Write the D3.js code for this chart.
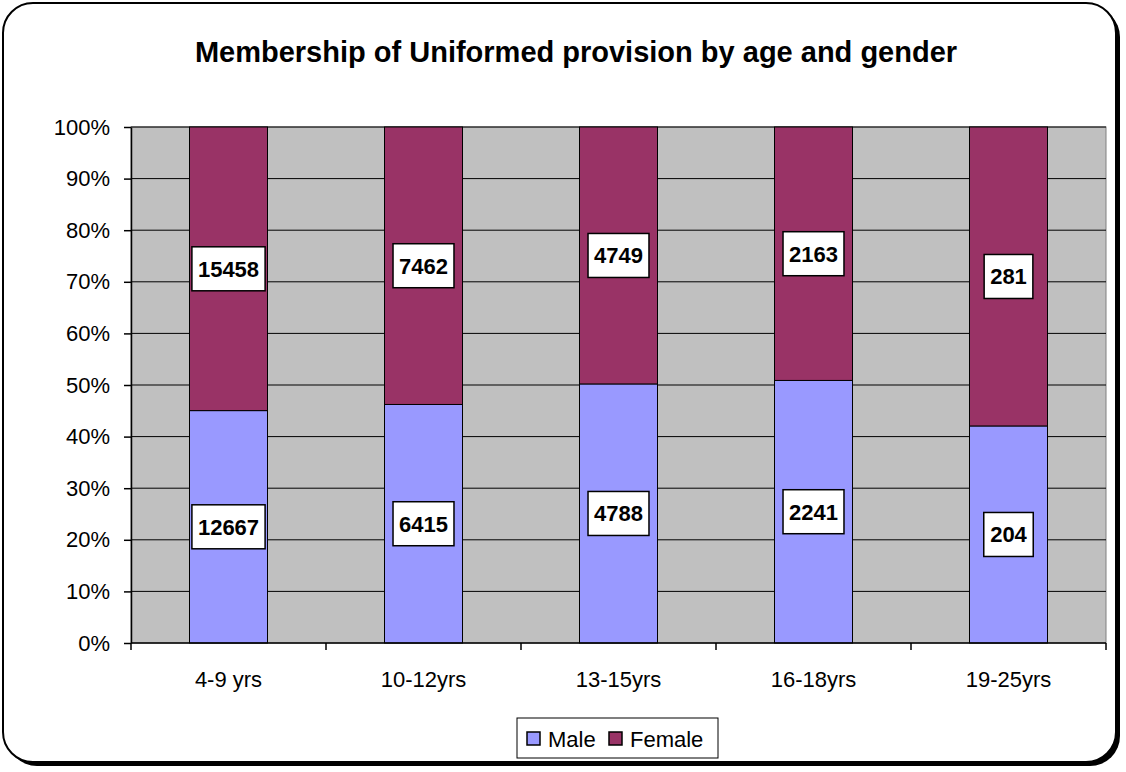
<!DOCTYPE html>
<html>
<head>
<meta charset="utf-8">
<script src="https://cdn.jsdelivr.net/npm/d3@7"></script>
<style>
  body { margin: 0; background: #fff; }
  svg { font-family: Arial, "Liberation Sans", sans-serif; }
</style>
</head>
<body>
<svg id="chart" width="1126" height="772"></svg>
<script>
const categories = ["4-9 yrs", "10-12yrs", "13-15yrs", "16-18yrs", "19-25yrs"];
const male = [12667, 6415, 4788, 2241, 204];
const female = [15458, 7462, 4749, 2163, 281];
const seriesNames = ["Male", "Female"];
const seriesColors = ["#9999FF", "#993366"];
const yTicks = [0, 0.1, 0.2, 0.3, 0.4, 0.5, 0.6, 0.7, 0.8, 0.9, 1];

const svg = d3.select("#chart");
const W = 1126, H = 772;
const m = { left: 131, right: 20, top: 127, bottom: 129 };
const pw = W - m.left - m.right, ph = H - m.top - m.bottom;

// outer frame with shadow
svg.append("rect").attr("x", 7).attr("y", 7).attr("width", 1113).attr("height", 759)
  .attr("rx", 30).attr("fill", "#000");
svg.append("rect").attr("x", 3).attr("y", 3).attr("width", 1113).attr("height", 759)
  .attr("rx", 30).attr("fill", "#fff").attr("stroke", "#000").attr("stroke-width", 2);

svg.append("text").attr("x", 576).attr("y", 62).attr("text-anchor", "middle")
  .attr("font-size", 29).attr("font-weight", "bold").text("Membership of Uniformed provision by age and gender");

const rows = categories.map((c, i) => {
  const t = male[i] + female[i];
  return { cat: c, Male: male[i] / t, Female: female[i] / t, raw: [male[i], female[i]] };
});
const stack = d3.stack().keys(seriesNames)(rows);

const x = d3.scaleBand().domain(categories).range([0, pw]).paddingInner(0.6).paddingOuter(0.3);
const y = d3.scaleLinear().domain([0, 1]).range([ph, 0]);

const g = svg.append("g").attr("transform", `translate(${m.left},${m.top})`);

g.append("rect").attr("width", pw).attr("height", ph).attr("fill", "#C0C0C0")
  .attr("stroke", "#808080").attr("stroke-width", 1);

g.append("g").selectAll("line").data(yTicks.slice(1)).join("line")
  .attr("x1", 0).attr("x2", pw).attr("y1", d => y(d)).attr("y2", d => y(d))
  .attr("stroke", "#000").attr("stroke-width", 1);

stack.forEach((s, si) => {
  g.append("g").selectAll("rect").data(s).join("rect")
    .attr("x", d => x(d.data.cat)).attr("width", x.bandwidth())
    .attr("y", d => y(d[1])).attr("height", d => y(d[0]) - y(d[1]))
    .attr("fill", seriesColors[si]).attr("stroke", "#000").attr("stroke-width", 1);
});

// data labels
stack.forEach((s, si) => {
  const lg = g.append("g").selectAll("g").data(s).join("g")
    .attr("transform", d => `translate(${x(d.data.cat) + x.bandwidth() / 2},${y((d[0] + d[1]) / 2)})`);
  lg.append("text").attr("text-anchor", "middle").attr("dy", "0.36em")
    .attr("font-size", 22).attr("font-weight", "bold").text(d => d.data.raw[si]);
  lg.insert("rect", "text").each(function () {
    const bb = this.parentNode.querySelector("text").getBBox();
    d3.select(this).attr("x", -bb.width / 2 - 6).attr("y", -22)
      .attr("width", bb.width + 12).attr("height", 44)
      .attr("fill", "#fff").attr("stroke", "#000").attr("stroke-width", 1.5);
  });
});

// axes
const yAxis = d3.axisLeft(y).tickValues(yTicks).tickFormat(d3.format(".0%")).tickSize(7).tickSizeOuter(0);
const ya = g.append("g").call(yAxis);
ya.select(".domain").attr("stroke-width", 1.5);
ya.selectAll(".tick line").attr("stroke-width", 1.5);
ya.selectAll("text").attr("font-size", 22).attr("fill", "#000").attr("x", -21);

const xa = g.append("g").attr("transform", `translate(0,${ph})`);
xa.append("line").attr("x1", 0).attr("x2", pw).attr("stroke", "#000").attr("stroke-width", 1.5);
const bounds = d3.range(categories.length + 1).map(i => i * pw / categories.length);
xa.selectAll("line.tk").data(bounds).join("line").attr("class", "tk")
  .attr("x1", d => d).attr("x2", d => d).attr("y1", 0).attr("y2", 7).attr("stroke", "#000").attr("stroke-width", 1.5);
xa.selectAll("text").data(categories).join("text")
  .attr("x", d => x(d) + x.bandwidth() / 2).attr("y", 44).attr("text-anchor", "middle")
  .attr("font-size", 22).text(d => d);

// legend
const leg = svg.append("g").attr("transform", "translate(517,718)");
leg.append("rect").attr("width", 201).attr("height", 40).attr("fill", "#fff").attr("stroke", "#000").attr("stroke-width", 1);
const items = [{ n: "Male", c: seriesColors[0], x: 10 }, { n: "Female", c: seriesColors[1], x: 92 }];
items.forEach(it => {
  leg.append("rect").attr("x", it.x).attr("y", 14).attr("width", 13).attr("height", 13)
    .attr("fill", it.c).attr("stroke", "#000").attr("stroke-width", 1.5);
  leg.append("text").attr("x", it.x + 21).attr("y", 29).attr("font-size", 22).text(it.n);
});
</script>
</body>
</html>
